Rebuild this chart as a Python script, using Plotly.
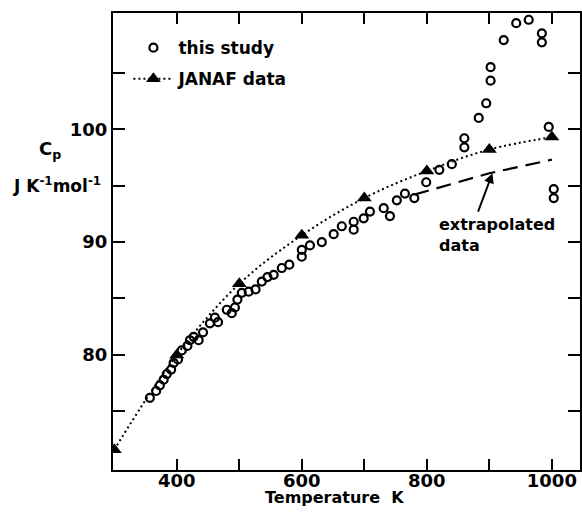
import plotly.graph_objects as go

# ---- data ----
study_T = [357, 367, 373, 379, 384, 391, 395, 402, 408, 417, 421, 427, 435, 442,
           453, 461, 466, 480, 488, 493, 497, 504, 515, 526, 536, 545, 555, 568,
           580, 600, 600, 613, 632, 651, 664, 683, 683, 699, 709, 731, 741, 752,
           765, 780, 799, 820, 840, 860, 860, 883, 895, 902, 902, 923, 943, 963,
           984, 984, 995, 1003, 1003]
study_Cp = [76.2, 76.8, 77.3, 77.8, 78.3, 78.7, 79.3, 79.6, 80.4, 80.8, 81.3, 81.6, 81.3, 82.0,
            82.8, 83.3, 82.9, 84.0, 83.7, 84.2, 84.9, 85.5, 85.6, 85.8, 86.5, 86.9, 87.1, 87.7,
            88.0, 89.3, 88.7, 89.7, 90.0, 90.7, 91.4, 91.8, 91.1, 92.1, 92.7, 93.0, 92.3, 93.7,
            94.3, 93.9, 95.3, 96.4, 96.9, 99.2, 98.4, 101.0, 102.3, 104.3, 105.5, 107.9, 109.4, 109.7,
            108.5, 107.7, 100.2, 94.7, 93.9]

janaf_T = [300, 400, 500, 600, 700, 800, 900, 1000]
janaf_Cp = [71.6, 80.0, 86.3, 90.6, 93.9, 96.3, 98.2, 99.3]

extrap_T = [780, 850, 900, 950, 1000]
extrap_Cp = [94.2, 95.3, 96.1, 96.7, 97.3]

x_tickvals = [400, 500, 600, 700, 800, 900, 1000]
x_ticktext = ['400', '', '600', '', '800', '', '1000']
y_tickvals = [75, 80, 85, 90, 95, 100, 105]
y_ticktext = ['', '80', '', '90', '', '100', '']

FONT = "DejaVu Sans"
W, H = 582, 512
L, R, T, B = 113, 2, 13, 42
pw, ph = W - L - R, H - T - B


def px_x(x):
    return (x - L) / pw


def px_y(y):
    return (H - B - y) / ph


fig = go.Figure()

fig.add_trace(go.Scatter(
    x=study_T, y=study_Cp, mode='markers', name='this study', legendgroup='study',
    marker=dict(symbol='circle-open', size=8, color='black',
                line=dict(color='black', width=2.2)),
))
fig.add_trace(go.Scatter(
    x=janaf_T, y=janaf_Cp, mode='lines+markers', name='JANAF data', legendgroup='janaf',
    line=dict(color='black', width=2, dash='2px,3px', shape='spline'),
    marker=dict(symbol='triangle-up', size=13, color='black'),
))
fig.add_trace(go.Scatter(
    x=extrap_T, y=extrap_Cp, mode='lines', showlegend=False,
    line=dict(color='black', width=2.2, dash='15px,8px'),
))

fig.add_annotation(x=816, y=92.6, xref='x', yref='y', xanchor='left', yanchor='top',
                   text='extrapolated<br>data', showarrow=False, align='left',
                   font=dict(family=FONT, size=16, color='black', weight='bold'))
fig.add_annotation(x=905, y=96.1, xref='x', yref='y', text='', showarrow=True,
                   ax=-15, ay=40, arrowhead=2, arrowsize=1, arrowwidth=2, arrowcolor='black')

fig.add_annotation(x=px_x(50), y=px_y(150), xref='paper', yref='paper', text='C<sub>p</sub>',
                   xanchor='center', yanchor='middle',
                   showarrow=False, font=dict(family=FONT, size=18, color='black', weight='bold'))
fig.add_annotation(x=px_x(57), y=px_y(185), xref='paper', yref='paper',
                   text='J K<sup>-1</sup>mol<sup>-1</sup>', xanchor='center', yanchor='middle',
                   showarrow=False, font=dict(family=FONT, size=17, color='black', weight='bold'))
fig.add_annotation(x=px_x(334), y=px_y(497), xref='paper', yref='paper',
                   text='Temperature  K', showarrow=False, xanchor='center', yanchor='middle',
                   font=dict(family=FONT, size=16, color='black', weight='bold'))

fig.update_layout(
    width=W, height=H,
    margin=dict(l=L, r=R, t=T, b=B, autoexpand=False),
    paper_bgcolor='white', plot_bgcolor='white',
    font=dict(family=FONT, color='black'),
    legend=dict(x=0.033, y=0.9625, xanchor='left', yanchor='top',
                bgcolor='rgba(0,0,0,0)', traceorder='grouped', tracegroupgap=6,
                itemwidth=40,
                font=dict(family=FONT, size=17, color='black', weight='bold')),
    xaxis=dict(range=[298, 1045], tickvals=x_tickvals, ticktext=x_ticktext,
               ticks='inside', ticklen=11, tickwidth=2, tickcolor='black',
               showline=True, linewidth=2, linecolor='black', mirror='ticks',
               showgrid=False, zeroline=False, automargin=False, ticklabelstandoff=-7,
               tickfont=dict(family=FONT, size=18, color='black', weight='bold')),
    yaxis=dict(range=[69.8, 110.3], tickvals=y_tickvals, ticktext=y_ticktext,
               ticks='inside', ticklen=12, tickwidth=2, tickcolor='black',
               showline=True, linewidth=2, linecolor='black', mirror='ticks',
               showgrid=False, zeroline=False, automargin=False,
               tickfont=dict(family=FONT, size=18, color='black', weight='bold')),
)

fig.write_html("out.html", config={'displayModeBar': False},
               post_script="document.body.style.margin='0';document.body.style.overflow='hidden';")
